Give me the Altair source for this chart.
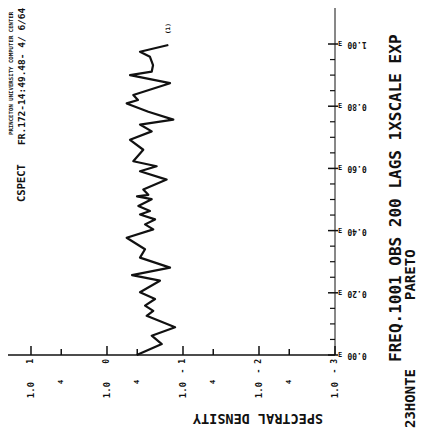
import altair as alt
import pandas as pd

# ---- data ----
freq = [0.000, 0.035, 0.062, 0.089, 0.126, 0.142, 0.159, 0.180, 0.202, 0.239,
        0.257, 0.281, 0.313, 0.340, 0.377, 0.404, 0.420, 0.436, 0.452, 0.463,
        0.479, 0.501, 0.510, 0.515, 0.532, 0.564, 0.591, 0.607, 0.623, 0.660,
        0.692, 0.719, 0.741, 0.757, 0.782, 0.809, 0.820, 0.836, 0.874, 0.900,
        0.911, 0.932, 0.959, 0.975, 0.997]
density = [0.406, 0.190, 0.258, 0.127, 0.301, 0.246, 0.316, 0.233, 0.368, 0.201,
           0.469, 0.148, 0.368, 0.316, 0.551, 0.246, 0.316, 0.233, 0.368, 0.272,
           0.387, 0.258, 0.403, 0.286, 0.333, 0.164, 0.368, 0.222, 0.451, 0.333,
           0.498, 0.258, 0.368, 0.134, 0.286, 0.551, 0.391, 0.451, 0.148, 0.498,
           0.258, 0.248, 0.272, 0.368, 0.156]

decades = [10, 1, 0.1, 0.01, 0.001]
decade_mant = ["1.0", "1.0", "1.0", "1.0", "1.0"]
decade_exp = ["1", "0", "- 1", "- 2", "- 3"]
minor_fours = [4, 0.4, 0.04, 0.004]
minor_four_lab = ["4", "4", "4", "4"]
freq_ticks = [0.0, 0.2, 0.4, 0.6, 0.8, 1.0]
freq_labels = ["0.00", "0.20", "0.40", "0.60", "0.80", "1.00"]
freq_minor = [0.05, 0.10, 0.15, 0.25, 0.30, 0.35, 0.45, 0.50, 0.55,
              0.65, 0.70, 0.75, 0.85, 0.90, 0.95]

# ---- layout / style ----
W, H = 327, 347
INK = "#111111"
FONT = "DejaVu Sans Mono"
xs = alt.Scale(type="log", domain=[0.001, 20.07], reverse=True, nice=False)
ys = alt.Scale(domain=[0, 1.1158], nice=False, zero=False)
one = pd.DataFrame({"k": [0]})

curve = alt.Chart(pd.DataFrame({"f": freq, "d": density})).mark_line(
    color=INK, strokeWidth=2.2, strokeJoin="round").encode(
    x=alt.X("d:Q", scale=xs, axis=None),
    y=alt.Y("f:Q", scale=ys, axis=None),
    order="f:Q")

hline = alt.Chart(one).mark_rule(color=INK, strokeWidth=1.5).encode(
    x=alt.value(0), x2=alt.value(W), y=alt.value(H))
vline = alt.Chart(one).mark_rule(color=INK, strokeWidth=1).encode(
    x=alt.value(W), y=alt.value(0), y2=alt.value(H))

dec_df = pd.DataFrame({"v": decades, "m": decade_mant, "e": decade_exp})
dticks = alt.Chart(dec_df).mark_rule(color=INK, strokeWidth=1.5).encode(
    x=alt.X("v:Q", scale=xs, axis=None), y=alt.value(H - 9), y2=alt.value(H))
dmant = alt.Chart(dec_df).mark_text(
    angle=270, font=FONT, fontWeight="bold", fontSize=9, color=INK,
    align="center", baseline="middle").encode(
    x=alt.X("v:Q", scale=xs, axis=None), y=alt.value(382), text="m:N")
dexp = alt.Chart(dec_df).mark_text(
    angle=270, font=FONT, fontWeight="bold", fontSize=8, color=INK,
    align="right", baseline="middle").encode(
    x=alt.X("v:Q", scale=xs, axis=None), y=alt.value(351), text="e:N")

four_df = pd.DataFrame({"v": minor_fours, "t": minor_four_lab})
fticks4 = alt.Chart(four_df).mark_rule(color=INK, strokeWidth=1.5).encode(
    x=alt.X("v:Q", scale=xs, axis=None), y=alt.value(H - 6), y2=alt.value(H))
flab4 = alt.Chart(four_df).mark_text(
    angle=270, font=FONT, fontWeight="bold", fontSize=7, color=INK,
    align="center", baseline="middle").encode(
    x=alt.X("v:Q", scale=xs, axis=None), y=alt.value(374), text="t:N")

ft_df = pd.DataFrame({"f": freq_ticks, "lab": freq_labels})
fmaj = alt.Chart(ft_df).mark_rule(color=INK, strokeWidth=1.5).encode(
    y=alt.Y("f:Q", scale=ys, axis=None), x=alt.value(W - 7), x2=alt.value(W + 3))
fE = alt.Chart(ft_df).mark_text(
    font=FONT, fontWeight="bold", fontSize=7, color=INK,
    align="center", baseline="middle").encode(
    y=alt.Y("f:Q", scale=ys, axis=None), x=alt.value(W + 5), text=alt.value("E"))
flab = alt.Chart(ft_df).mark_text(
    angle=180, font=FONT, fontWeight="bold", fontSize=8, color=INK,
    align="center", baseline="middle").encode(
    y=alt.Y("f:Q", scale=ys, axis=None), x=alt.value(349), text="lab:N")

fm_df = pd.DataFrame({"f": freq_minor})
fmin = alt.Chart(fm_df).mark_rule(color=INK, strokeWidth=1.2).encode(
    y=alt.Y("f:Q", scale=ys, axis=None), x=alt.value(W - 5), x2=alt.value(W))


def note(txt, px, py, size, angle=270, align="left"):
    return alt.Chart(one).mark_text(
        angle=angle, font=FONT, fontWeight="bold", fontSize=size, color=INK,
        align=align, baseline="middle").encode(
        x=alt.value(px), y=alt.value(py), text=alt.value(txt))


notes = [
    note("SPECTRAL DENSITY", 250, 410, 13.5, angle=180, align="center"),
    note("FREQ.1001 OBS 200 LAGS 1XSCALE EXP", 388, 354, 16),
    note("23HONTE", 403, 420, 14),
    note("PARETO", 403, 292, 14),
    note("PRINCETON UNIVERSITY COMPUTER CENTER", 3, 127, 5.7),
    note("CSPECT", 14, 194, 10.5),
    note("FR.172-14:49.48- 4/ 6/64", 14, 137, 9.5),
    note("(1)", 160, 26, 6),
]

chart = alt.layer(
    curve, hline, vline, dticks, dmant, dexp, fticks4, flab4,
    fmaj, fE, flab, fmin, *notes
).properties(
    width=W, height=H,
    autosize=alt.AutoSizeParams(type="none"),
    padding={"left": 0, "top": 0, "right": 85, "bottom": 78},
    background="white",
).configure_view(stroke=None)

chart.save("out.html", embed_options={"renderer": "svg", "actions": False})
